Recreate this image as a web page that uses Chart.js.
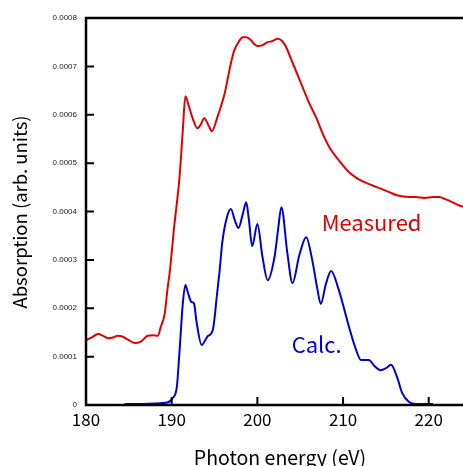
<!DOCTYPE html>
<html>
<head>
<meta charset="utf-8">
<script src="https://cdn.jsdelivr.net/npm/chart.js@4/dist/chart.umd.min.js"></script>
<style>
  body { margin: 0; background: #fff; }
  canvas { display: block; }
</style>
</head>
<body>
<canvas id="chart" width="463" height="466"></canvas>
<script>
'use strict';
// data
var energyMeasured = [180, 180.7, 181.4, 182.0, 182.6, 183.2, 183.7, 184.3, 185.0, 185.7, 186.4, 187.2, 187.8, 188.4, 188.7, 189.2, 189.5, 189.8, 190.3, 190.9, 191.3, 191.6, 192.0, 192.5, 193.0, 193.4, 193.8, 194.3, 194.7, 195.3, 195.8, 196.2, 196.6, 197.0, 197.3, 197.8, 198.3, 198.7, 199.2, 199.6, 200.0, 200.6, 201.2, 201.7, 202.4, 203.2, 204.1, 205.1, 206.0, 206.9, 207.6, 208.4, 209.5, 210.7, 211.7, 212.7, 214.0, 215.4, 216.2, 217.0, 217.7, 218.5, 219.5, 220.5, 221.2, 222.0, 222.8, 223.5, 224.0];
var absMeasured = [0.000134, 0.000140, 0.000147, 0.000143, 0.000138, 0.000140, 0.000143, 0.000141, 0.000134, 0.000128, 0.000131, 0.000143, 0.000144, 0.000143, 0.000160, 0.000190, 0.000238, 0.000279, 0.000370, 0.000468, 0.000568, 0.000638, 0.000618, 0.000590, 0.000572, 0.000580, 0.000593, 0.000578, 0.000566, 0.000593, 0.000620, 0.000645, 0.000680, 0.000713, 0.000733, 0.000750, 0.000760, 0.000760, 0.000755, 0.000747, 0.000742, 0.000744, 0.000750, 0.000752, 0.000757, 0.000745, 0.000708, 0.000665, 0.000626, 0.000593, 0.000562, 0.000533, 0.000506, 0.000481, 0.000468, 0.000459, 0.000450, 0.000440, 0.000434, 0.000431, 0.000430, 0.000430, 0.000428, 0.000430, 0.000430, 0.000425, 0.000419, 0.000413, 0.000410];

var energyCalc = [184.5, 186, 188, 189.5, 190.1, 190.6, 190.9, 191.3, 191.6, 191.9, 192.3, 192.6, 192.9, 193.5, 194.2, 194.8, 195.3, 195.6, 195.9, 196.4, 196.9, 197.4, 197.8, 198.3, 198.7, 199.0, 199.4, 200.0, 200.6, 201.2, 202.0, 202.4, 202.8, 203.5, 204.1, 204.9, 205.7, 206.4, 207.0, 207.4, 208.0, 208.6, 209.5, 210.7, 211.5, 212.1, 213.0, 213.7, 214.4, 215.0, 215.6, 216.3, 216.9, 217.7, 218.5, 220.5];
var absCalc = [0.000002, 0.000002, 0.000003, 0.000005, 0.000014, 0.000037, 0.000107, 0.000210, 0.000248, 0.000232, 0.000213, 0.000210, 0.000172, 0.000124, 0.000142, 0.000155, 0.000230, 0.000279, 0.000335, 0.000385, 0.000405, 0.000380, 0.000366, 0.000395, 0.000419, 0.000385, 0.000328, 0.000374, 0.000306, 0.000258, 0.000306, 0.000360, 0.000409, 0.000314, 0.000252, 0.000310, 0.000347, 0.000300, 0.000240, 0.000209, 0.000250, 0.000277, 0.000238, 0.000161, 0.000115, 0.000093, 0.000093, 0.000080, 0.000072, 0.000076, 0.000083, 0.000058, 0.000025, 0.000006, 0.000002, 0.000002];

var xTicks = [180, 190, 200, 210, 220];
var yTicks = [0, 0.0001, 0.0002, 0.0003, 0.0004, 0.0005, 0.0006, 0.0007, 0.0008];
var xTitle = 'Photon energy (eV)';
var yTitle = 'Absorption (arb. units)';
var seriesNames = ['Measured', 'Calc.'];
// where the in-plot labels sit, in data units
var labelPos = [[207.5, 0.000360], [204.0, 0.000107]];

var red = 'rgb(225,0,0)';
var blue = 'rgb(0,0,210)';
var font = '"Noto Sans CJK JP", "Liberation Sans", sans-serif';

function toPoints(xs, ys){
  var pts = [];
  for (var i = 0; i < xs.length; i++){
    pts.push({x: xs[i], y: ys[i]});
  }
  return pts;
}

// axes frame, inward ticks, titles and series labels
var frame = {
  id: 'frame',
  afterDraw: function(chart){
    var ctx = chart.ctx;
    var a = chart.chartArea;
    var xs = chart.scales.x;
    var ys = chart.scales.y;
    ctx.save();
    ctx.strokeStyle = '#000';
    ctx.lineWidth = 2.5;
    ctx.beginPath();
    ctx.moveTo(a.right + 2, a.top);
    ctx.lineTo(a.left, a.top);
    ctx.lineTo(a.left, a.bottom);
    ctx.lineTo(a.right + 2, a.bottom);
    ctx.stroke();
    ctx.lineWidth = 2;
    ctx.beginPath();
    for (var i = 0; i < xTicks.length; i++){
      var px = xs.getPixelForValue(xTicks[i]);
      ctx.moveTo(px, a.bottom);
      ctx.lineTo(px, a.bottom - 8);
    }
    for (var j = 0; j < yTicks.length; j++){
      var py = ys.getPixelForValue(yTicks[j]);
      ctx.moveTo(a.left, py);
      ctx.lineTo(a.left + 8, py);
    }
    ctx.stroke();

    ctx.fillStyle = '#000';
    ctx.textAlign = 'center';
    ctx.textBaseline = 'alphabetic';
    ctx.font = '19.5px ' + font;
    ctx.fillText(xTitle, 280, 465);
    ctx.font = '18.5px ' + font;
    ctx.translate(27, 212);
    ctx.rotate(-Math.PI / 2);
    ctx.fillText(yTitle, 0, 0);
    ctx.restore();

    ctx.save();
    ctx.font = '22px ' + font;
    ctx.textAlign = 'left';
    ctx.textBaseline = 'alphabetic';
    var colors = [red, blue];
    for (var k = 0; k < seriesNames.length; k++){
      ctx.fillStyle = colors[k];
      ctx.fillText(seriesNames[k], xs.getPixelForValue(labelPos[k][0]), ys.getPixelForValue(labelPos[k][1]));
    }
    ctx.restore();
  }
};

var chart = new Chart(document.getElementById('chart').getContext('2d'), {
  type: 'line',
  data: {
    datasets: [{
      label: seriesNames[0],
      data: toPoints(energyMeasured, absMeasured),
      borderColor: red,
      borderWidth: 2,
      pointRadius: 0,
      cubicInterpolationMode: 'monotone'
    }, {
      label: seriesNames[1],
      data: toPoints(energyCalc, absCalc),
      borderColor: blue,
      borderWidth: 2,
      pointRadius: 0,
      cubicInterpolationMode: 'monotone'
    }]
  },
  options: {
    responsive: false,
    animation: false,
    devicePixelRatio: 1,
    layout: {padding: {top: 18, left: 0, right: 0, bottom: 0}},
    plugins: {legend: {display: false}, tooltip: {enabled: false}},
    scales: {
      x: {
        type: 'linear',
        min: 180,
        max: 224,
        grid: {display: false, drawTicks: false},
        border: {display: false},
        afterBuildTicks: function(scale){
          scale.ticks = xTicks.map(function(v){ return {value: v}; });
        },
        afterFit: function(scale){ scale.height = 61; },
        ticks: {
          padding: 4,
          color: '#000',
          font: {family: font, size: 17},
          maxRotation: 0,
          callback: function(v){ return String(v); }
        }
      },
      y: {
        min: 0,
        max: 0.0008,
        grid: {display: false, drawTicks: false},
        border: {display: false},
        afterBuildTicks: function(scale){
          scale.ticks = yTicks.map(function(v){ return {value: v}; });
        },
        afterFit: function(scale){ scale.width = 86; },
        ticks: {
          padding: 9,
          color: '#222',
          font: {family: '"Liberation Sans", sans-serif', size: 8},
          callback: function(v){ return v === 0 ? '0' : v.toFixed(4); }
        }
      }
    }
  },
  plugins: [frame]
});
</script>
</body>
</html>
